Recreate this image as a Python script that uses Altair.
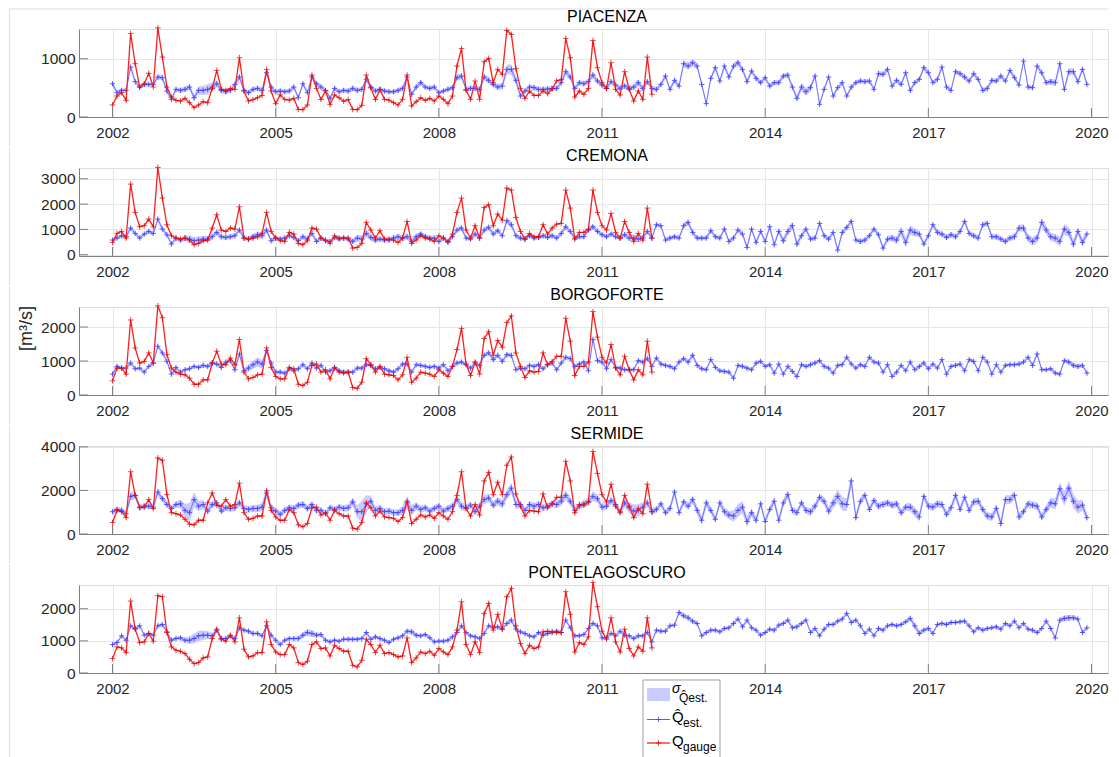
import altair as alt
import numpy as np
import pandas as pd

FONT = "Liberation Sans"
STATIONS = ["PIACENZA", "CREMONA", "BORGOFORTE", "SERMIDE", "PONTELAGOSCURO"]
XTICKS = [2002, 2005, 2008, 2011, 2014, 2017, 2020]
START_YEAR = 2002

# ---------------- PIACENZA ----------------
EST_PIACENZA = [
    571, 417, 457, 457, 857, 606, 514, 560, 560, 560, 686, 674,
    446, 303, 474, 457, 474, 514, 331, 457, 457, 474, 514, 571,
    457, 434, 457, 560, 686, 457, 417, 474, 491, 457, 760, 514,
    434, 446, 434, 446, 514, 331, 571, 417, 686, 571, 514, 457,
    320, 491, 434, 457, 446, 491, 457, 474, 646, 514, 446, 474,
    446, 434, 434, 457, 491, 686, 389, 514, 589, 514, 491, 514,
    417, 446, 474, 503, 674, 703, 474, 491, 491, 474, 686, 629,
    560, 514, 531, 817, 817, 629, 360, 446, 514, 503, 474, 474,
    480, 490, 491, 589, 777, 686, 491, 589, 571, 606, 720, 617,
    549, 491, 606, 549, 491, 531, 491, 514, 589, 491, 606, 491,
    474, 560, 703, 474, 629, 531, 914, 874, 931, 874, 560, 229,
    663, 846, 617, 874, 686, 874, 931, 817, 606, 789, 663, 589,
    674, 531, 589, 589, 703, 720, 514, 320, 514, 434, 503, 703,
    217, 474, 686, 360, 503, 589, 360, 514, 589, 617, 606, 617,
    474, 743, 731, 817, 531, 629, 560, 760, 457, 589, 646, 846,
    760, 589, 646, 857, 514, 457, 777, 743, 686, 617, 743, 646,
    457, 491, 629, 617, 703, 617, 800, 674, 549, 960, 514, 503,
    874, 760, 589, 606, 589, 914, 474, 777, 777, 606, 817, 560,
]
GAUGE_PIACENZA = [
    206, 360, 417, 286, 1434, 914, 514, 571, 749, 514, 1531, 1029,
    514, 343, 286, 274, 320, 246, 160, 206, 263, 246, 491, 800,
    474, 457, 486, 474, 1017, 446, 274, 297, 331, 371, 817, 446,
    229, 380, 303, 290, 320, 131, 126, 206, 720, 491, 300, 450,
    217, 380, 330, 270, 300, 131, 126, 200, 720, 500, 300, 470,
    303, 290, 246, 206, 303, 720, 189, 263, 331, 286, 320, 274,
    360, 303, 229, 360, 874, 1177, 457, 303, 617, 303, 949, 1006,
    589, 817, 731, 1486, 1417, 829, 491, 320, 446, 371, 371, 446,
    400, 480, 620, 640, 1349, 1017, 343, 446, 389, 491, 1314, 846,
    589, 491, 931, 474, 377, 777, 474, 274, 446, 303, 1029, 389,
]
SIG_PIACENZA = [
    40, 40, 35, 35, 50, 40, 35, 35, 35, 35, 45, 45,
    40, 35, 35, 40, 45, 50, 60, 70, 80, 90, 80, 60,
    50, 50, 45, 45, 60, 40, 40, 40, 45, 50, 60, 50,
    40, 40, 40, 40, 45, 40, 45, 40, 50, 45, 45, 40,
    40, 40, 40, 40, 40, 45, 40, 40, 55, 45, 40, 40,
    40, 40, 40, 40, 40, 50, 40, 45, 45, 40, 40, 40,
    35, 35, 40, 40, 50, 55, 45, 45, 45, 45, 55, 55,
    50, 50, 55, 80, 90, 70, 50, 45, 45, 45, 45, 45,
    45, 45, 45, 50, 60, 55, 45, 45, 45, 50, 55, 50,
    45, 45, 45, 45, 45, 45, 45, 50, 60, 50, 45, 45,
    40, 40, 50, 40, 45, 45, 60, 60, 60, 55, 45, 40,
    45, 50, 45, 50, 45, 50, 55, 50, 45, 45, 45, 40,
    40, 40, 40, 40, 45, 45, 50, 60, 70, 70, 60, 50,
    40, 40, 45, 40, 40, 40, 40, 40, 40, 40, 40, 40,
    40, 45, 45, 50, 40, 40, 40, 45, 40, 40, 40, 50,
    45, 40, 40, 50, 40, 40, 45, 45, 45, 40, 45, 40,
    40, 40, 40, 40, 45, 40, 45, 45, 40, 50, 40, 40,
    50, 50, 45, 45, 60, 70, 60, 60, 55, 50, 50, 40,
]

# ---------------- CREMONA ----------------
EST_CREMONA = [
    579, 658, 750, 711, 1053, 842, 658, 816, 921, 842, 1408, 1013,
    790, 421, 658, 579, 658, 618, 553, 579, 618, 618, 711, 882,
    711, 684, 711, 750, 974, 658, 618, 711, 790, 750, 974, 553,
    658, 618, 658, 750, 684, 553, 711, 618, 842, 526, 658, 553,
    526, 684, 618, 658, 618, 526, 658, 618, 842, 684, 579, 618,
    579, 579, 658, 711, 658, 711, 526, 711, 816, 711, 658, 658,
    526, 658, 487, 711, 974, 1053, 658, 618, 816, 658, 974, 1079,
    816, 948, 750, 1342, 1184, 750, 658, 618, 750, 658, 684, 750,
    684, 750, 658, 842, 1105, 921, 658, 711, 711, 974, 1105, 921,
    790, 711, 816, 711, 658, 790, 658, 658, 618, 658, 921, 658,
    1184, 1145, 579, 658, 711, 658, 1145, 1277, 882, 658, 658, 658,
    948, 711, 658, 1013, 526, 658, 974, 816, 290, 1013, 487, 921,
    526, 1105, 395, 921, 553, 921, 1145, 421, 750, 1013, 618, 658,
    1237, 750, 618, 882, 184, 882, 1079, 1316, 579, 526, 579, 750,
    1013, 790, 263, 618, 658, 579, 921, 487, 974, 882, 816, 421,
    750, 1184, 882, 816, 684, 790, 711, 921, 1316, 842, 750, 658,
    1184, 1237, 711, 711, 618, 526, 658, 711, 1053, 1053, 658, 526,
    658, 1277, 974, 711, 658, 526, 1013, 882, 421, 921, 487, 816,
]
GAUGE_CREMONA = [
    487, 842, 921, 658, 2790, 1671, 1105, 1145, 1408, 1105, 3448, 2237,
    1184, 750, 658, 618, 658, 579, 395, 447, 553, 579, 1053, 1579,
    974, 921, 1053, 1013, 1895, 658, 618, 658, 711, 842, 1671, 921,
    658, 553, 526, 882, 816, 447, 395, 553, 1053, 1013, 658, 579,
    447, 750, 658, 658, 658, 263, 290, 447, 1277, 974, 658, 948,
    618, 618, 579, 487, 658, 1316, 447, 579, 750, 658, 618, 526,
    750, 658, 526, 816, 1671, 2237, 974, 658, 1145, 658, 1869, 1974,
    1145, 1605, 1368, 2632, 2553, 1474, 921, 618, 842, 711, 711, 1184,
    816, 1053, 1210, 1237, 2553, 1842, 618, 882, 882, 1013, 2553, 1671,
    1145, 974, 1632, 882, 658, 1316, 882, 526, 842, 579, 1842, 658,
]
SIG_CREMONA = [
    80, 80, 80, 80, 100, 80, 80, 80, 80, 80, 110, 90,
    90, 80, 80, 100, 120, 140, 150, 140, 130, 120, 110, 100,
    100, 100, 100, 100, 110, 100, 110, 120, 130, 140, 120, 100,
    90, 90, 90, 90, 90, 90, 90, 90, 100, 90, 90, 90,
    90, 90, 90, 90, 100, 110, 130, 150, 150, 140, 120, 100,
    100, 100, 100, 110, 120, 130, 140, 120, 100, 100, 90, 90,
    90, 90, 90, 90, 100, 110, 90, 90, 100, 100, 110, 110,
    100, 100, 100, 120, 130, 110, 100, 90, 90, 90, 90, 90,
    90, 90, 90, 100, 110, 100, 90, 90, 90, 100, 110, 100,
    90, 90, 90, 90, 90, 100, 120, 140, 130, 110, 100, 90,
    90, 90, 90, 90, 90, 90, 110, 120, 110, 100, 90, 90,
    90, 90, 90, 100, 90, 90, 90, 100, 110, 100, 100, 100,
    100, 110, 110, 120, 150, 160, 150, 140, 120, 110, 100, 100,
    100, 100, 100, 100, 110, 100, 100, 110, 100, 100, 100, 100,
    100, 100, 110, 120, 130, 150, 180, 200, 180, 150, 120, 110,
    110, 110, 110, 110, 110, 110, 110, 110, 110, 110, 110, 110,
    110, 110, 110, 110, 110, 110, 110, 120, 130, 150, 160, 170,
    170, 180, 170, 160, 170, 180, 200, 190, 180, 170, 160, 150,
]

# ---------------- BORGOFORTE ----------------
EST_BORGOFORTE = [
    614, 842, 792, 792, 941, 772, 792, 673, 842, 941, 1436, 1238,
    990, 614, 812, 673, 743, 772, 842, 812, 871, 842, 941, 911,
    812, 970, 1010, 743, 1208, 713, 792, 891, 970, 911, 1307, 941,
    673, 673, 644, 772, 713, 772, 891, 772, 941, 792, 871, 673,
    713, 812, 713, 673, 673, 673, 792, 792, 891, 871, 772, 812,
    772, 713, 673, 772, 911, 911, 673, 891, 871, 842, 812, 842,
    792, 891, 713, 842, 941, 970, 891, 792, 941, 871, 1168, 1238,
    1040, 1168, 990, 1188, 1168, 743, 792, 772, 871, 842, 891, 772,
    891, 941, 743, 941, 1109, 1069, 842, 911, 970, 713, 1634, 1010,
    970, 772, 1040, 812, 792, 743, 743, 743, 1010, 970, 1069, 842,
    1089, 911, 871, 842, 772, 970, 1069, 970, 1168, 871, 772, 743,
    1040, 812, 713, 693, 673, 495, 871, 842, 792, 743, 941, 990,
    842, 891, 644, 911, 614, 842, 693, 545, 891, 842, 891, 941,
    1010, 842, 792, 644, 871, 891, 1109, 911, 792, 891, 842, 1109,
    970, 941, 673, 891, 545, 673, 871, 713, 970, 743, 842, 941,
    772, 911, 792, 1040, 614, 842, 871, 911, 713, 1040, 990, 713,
    1109, 970, 614, 891, 673, 871, 891, 891, 911, 970, 1109, 871,
    1208, 743, 743, 772, 644, 614, 1010, 970, 871, 842, 871, 644,
]
GAUGE_BORGOFORTE = [
    416, 792, 792, 614, 2208, 1386, 941, 990, 1238, 941, 2624, 2277,
    1188, 792, 673, 614, 594, 495, 317, 317, 446, 446, 941, 1287,
    911, 891, 1089, 891, 1634, 673, 475, 515, 594, 614, 1386, 812,
    545, 475, 475, 812, 772, 317, 277, 376, 871, 911, 673, 743,
    475, 792, 673, 644, 673, 218, 198, 376, 1069, 891, 673, 842,
    614, 594, 574, 446, 594, 1109, 376, 495, 673, 644, 614, 545,
    743, 644, 545, 842, 1337, 1960, 911, 574, 970, 614, 1663, 1861,
    1168, 1604, 1406, 2129, 2327, 1238, 842, 515, 713, 673, 693, 1238,
    891, 990, 1139, 1139, 2257, 1584, 574, 842, 842, 970, 2455, 1703,
    1109, 941, 1485, 792, 594, 1139, 743, 446, 743, 594, 1584, 673,
]
SIG_BORGOFORTE = [
    50, 50, 50, 50, 60, 50, 50, 50, 50, 50, 60, 60,
    60, 50, 50, 50, 50, 50, 50, 55, 60, 60, 60, 60,
    60, 60, 60, 70, 80, 90, 100, 120, 140, 130, 100, 80,
    60, 60, 55, 55, 55, 55, 55, 55, 60, 55, 55, 55,
    55, 55, 55, 55, 55, 55, 60, 60, 60, 60, 55, 55,
    55, 55, 55, 55, 60, 70, 60, 55, 55, 55, 55, 55,
    55, 55, 55, 55, 60, 60, 55, 55, 60, 60, 70, 70,
    70, 70, 70, 70, 70, 60, 55, 55, 55, 55, 55, 55,
    55, 55, 55, 60, 70, 60, 55, 55, 60, 60, 80, 70,
    60, 55, 55, 55, 55, 55, 55, 55, 60, 55, 55, 55,
    55, 55, 55, 55, 55, 60, 60, 70, 80, 70, 60, 55,
    55, 55, 55, 55, 55, 55, 55, 55, 55, 55, 55, 55,
    55, 55, 55, 55, 55, 55, 55, 55, 55, 55, 60, 55,
    55, 55, 55, 55, 55, 55, 60, 55, 55, 55, 55, 60,
    55, 55, 55, 55, 55, 55, 55, 55, 60, 60, 60, 60,
    55, 55, 55, 55, 55, 55, 55, 55, 55, 60, 60, 55,
    60, 60, 55, 55, 55, 55, 55, 55, 55, 60, 60, 70,
    70, 55, 55, 55, 55, 55, 60, 70, 80, 70, 60, 55,
]

# ---------------- SERMIDE ----------------
EST_SERMIDE = [
    1023, 1128, 1083, 932, 1730, 1775, 1203, 1278, 1278, 1233, 1925, 1624,
    1354, 1173, 1354, 1384, 1083, 978, 1579, 1278, 1354, 1053, 1354, 1429,
    1053, 1203, 1173, 1203, 1429, 1173, 1128, 1173, 1173, 1233, 1880, 1203,
    1053, 902, 1083, 1203, 1173, 1324, 1354, 1173, 1354, 1083, 1083, 932,
    1203, 1128, 1233, 1173, 1203, 1474, 1023, 1023, 1384, 1504, 1083, 1173,
    1023, 1053, 978, 978, 1083, 1429, 1083, 1278, 1128, 1203, 1053, 1173,
    1278, 1053, 1173, 1278, 1579, 1278, 1203, 1324, 1023, 1278, 1579, 1654,
    1324, 1504, 1384, 1805, 2106, 1354, 1354, 1083, 1354, 1278, 1354, 1203,
    1278, 1384, 1354, 1504, 1775, 1504, 1083, 1278, 1384, 1474, 1730, 1624,
    1233, 1278, 1534, 1354, 1023, 1429, 1203, 1053, 1083, 1233, 1429, 1023,
    1128, 1384, 978, 1173, 1925, 978, 1474, 1278, 1579, 1083, 632, 1429,
    1083, 677, 1429, 1023, 872, 827, 1083, 1233, 572, 978, 632, 1384,
    572, 1128, 1504, 632, 1429, 1805, 1083, 978, 1429, 1083, 1023, 1278,
    1685, 1504, 1053, 1429, 1730, 1384, 1354, 2436, 752, 1504, 1775, 1128,
    1534, 1278, 1354, 1429, 1324, 1384, 978, 1233, 1233, 1023, 782, 1730,
    1278, 1233, 1384, 1354, 902, 1203, 1775, 1128, 1685, 1083, 1474, 1504,
    1128, 827, 782, 1173, 481, 1579, 1579, 1775, 782, 1023, 1384, 1324,
    1278, 782, 1128, 1429, 1384, 2076, 1624, 2106, 1504, 1233, 1324, 752,
]
GAUGE_SERMIDE = [
    526, 1083, 1023, 752, 2858, 1775, 1233, 1233, 1579, 1173, 3489, 3384,
    1805, 978, 932, 872, 677, 451, 421, 632, 632, 1429, 1880, 1324,
    1278, 1579, 1278, 1354, 2331, 978, 677, 722, 827, 827, 1985, 1083,
    782, 632, 632, 1128, 978, 421, 331, 481, 1203, 1233, 872, 978,
    632, 1083, 932, 827, 827, 271, 226, 526, 1429, 1203, 827, 1053,
    782, 752, 722, 572, 752, 1504, 481, 677, 872, 782, 872, 722,
    978, 827, 677, 1023, 1775, 2858, 1173, 827, 1354, 872, 2436, 2828,
    1805, 2376, 1805, 3158, 3534, 1835, 1278, 827, 1083, 1053, 1023, 1835,
    1203, 1384, 1685, 1685, 3339, 2436, 978, 1354, 1324, 1474, 3790, 2782,
    1805, 1474, 2286, 1278, 978, 1775, 1278, 752, 1173, 932, 2286, 1023,
]
SIG_SERMIDE = [
    120, 120, 120, 120, 200, 180, 140, 130, 130, 130, 180, 160,
    150, 140, 140, 200, 300, 450, 350, 250, 200, 180, 160, 150,
    150, 150, 150, 150, 160, 150, 150, 160, 170, 200, 250, 200,
    150, 150, 150, 150, 150, 150, 160, 150, 150, 140, 140, 140,
    140, 140, 150, 150, 170, 200, 300, 500, 400, 250, 180, 160,
    150, 150, 150, 150, 200, 300, 250, 180, 160, 150, 150, 150,
    150, 150, 150, 160, 200, 200, 160, 160, 160, 170, 200, 200,
    180, 180, 200, 220, 250, 200, 180, 160, 160, 160, 160, 160,
    160, 160, 170, 200, 220, 200, 160, 160, 170, 190, 220, 200,
    170, 160, 170, 160, 160, 200, 250, 300, 280, 220, 180, 160,
    150, 150, 150, 160, 200, 150, 160, 170, 180, 200, 220, 200,
    170, 160, 170, 180, 200, 250, 300, 280, 250, 200, 180, 170,
    160, 160, 180, 200, 200, 200, 170, 160, 160, 160, 170, 180,
    170, 180, 200, 250, 300, 320, 300, 250, 200, 180, 170, 160,
    160, 160, 160, 160, 160, 160, 160, 170, 200, 220, 200, 180,
    170, 170, 170, 170, 170, 180, 200, 180, 170, 170, 170, 170,
    170, 170, 180, 200, 220, 200, 200, 200, 180, 170, 170, 170,
    170, 180, 200, 230, 260, 300, 330, 350, 320, 300, 260, 200,
]

# ---------------- PONTELAGOSCURO ----------------
EST_PONTE = [
    886, 948, 1157, 1021, 1469, 1386, 1469, 1177, 1230, 1177, 1469, 1511,
    1282, 1021, 1073, 1094, 1021, 1021, 1073, 1157, 1177, 1177, 1157, 1334,
    1073, 1073, 1157, 1073, 1407, 1334, 1302, 1230, 1230, 1157, 1469, 1177,
    1021, 886, 1021, 1073, 1073, 1073, 1177, 1261, 1230, 1177, 1198, 1021,
    969, 1021, 990, 1052, 1052, 1052, 1052, 1073, 1261, 1052, 1125, 1073,
    1021, 948, 1052, 1094, 1157, 1302, 1282, 1177, 1157, 1198, 1094, 969,
    990, 990, 1021, 1125, 1261, 1469, 1261, 1157, 1125, 1073, 1230, 1469,
    1407, 1438, 1365, 1542, 1646, 1365, 1282, 1230, 1157, 1125, 1261, 1177,
    1230, 1261, 1302, 1261, 1646, 1407, 1157, 1157, 1198, 1386, 1542, 1469,
    1094, 1094, 1230, 1157, 1302, 1177, 1157, 1073, 1157, 1157, 1261, 969,
    1334, 1302, 1302, 1469, 1490, 1886, 1782, 1719, 1615, 1542, 1157, 1261,
    1334, 1334, 1282, 1386, 1407, 1542, 1678, 1438, 1646, 1407, 1334, 1177,
    1261, 1365, 1334, 1490, 1542, 1646, 1407, 1438, 1542, 1646, 1261, 1386,
    1157, 1365, 1511, 1511, 1615, 1678, 1855, 1573, 1646, 1469, 1230, 1365,
    1157, 1386, 1334, 1469, 1511, 1469, 1511, 1594, 1699, 1469, 1230, 1334,
    1386, 1230, 1511, 1542, 1511, 1573, 1573, 1594, 1615, 1469, 1282, 1407,
    1334, 1386, 1407, 1438, 1365, 1542, 1469, 1615, 1407, 1542, 1365, 1334,
    1261, 1386, 1615, 1386, 1094, 1646, 1699, 1719, 1719, 1678, 1261, 1407,
]
GAUGE_PONTE = [
    448, 813, 781, 636, 2240, 1365, 948, 969, 1230, 990, 2407, 2376,
    1261, 813, 709, 677, 604, 427, 292, 323, 469, 500, 1073, 1365,
    1052, 990, 1177, 969, 1719, 740, 500, 531, 636, 636, 1594, 886,
    656, 573, 573, 886, 781, 323, 261, 365, 886, 969, 761, 781,
    531, 865, 761, 677, 677, 240, 188, 396, 1052, 886, 636, 865,
    604, 636, 573, 500, 531, 1094, 323, 469, 656, 604, 677, 552,
    761, 656, 573, 813, 1334, 2219, 886, 573, 969, 636, 1855, 2167,
    1334, 1824, 1365, 2376, 2636, 1469, 917, 604, 865, 761, 813, 1282,
    1302, 1282, 1261, 1261, 2532, 1824, 656, 948, 886, 1125, 2824, 2063,
    1302, 1052, 1719, 969, 656, 1365, 761, 531, 813, 677, 1719, 781,
]
SIG_PONTE = [
    50, 50, 50, 50, 60, 55, 55, 50, 50, 50, 60, 60,
    55, 55, 55, 60, 80, 120, 150, 160, 150, 130, 100, 80,
    60, 60, 60, 60, 70, 60, 60, 60, 60, 60, 70, 60,
    55, 55, 55, 55, 60, 70, 90, 110, 100, 80, 60, 55,
    55, 55, 55, 55, 55, 55, 55, 55, 60, 55, 55, 55,
    55, 55, 55, 55, 60, 70, 80, 70, 60, 55, 55, 55,
    55, 55, 55, 55, 60, 60, 55, 55, 55, 55, 60, 60,
    60, 60, 60, 70, 80, 70, 60, 55, 55, 55, 55, 55,
    55, 55, 55, 55, 60, 60, 55, 55, 55, 55, 60, 60,
    55, 55, 55, 55, 55, 55, 55, 60, 60, 55, 55, 55,
    55, 55, 55, 55, 60, 70, 80, 80, 70, 60, 55, 55,
    55, 55, 55, 55, 55, 55, 55, 55, 55, 55, 55, 55,
    55, 55, 55, 55, 55, 55, 55, 55, 55, 55, 55, 55,
    55, 55, 55, 55, 60, 60, 60, 55, 55, 55, 55, 55,
    55, 55, 55, 55, 55, 55, 55, 60, 80, 100, 90, 70,
    55, 55, 55, 55, 55, 55, 55, 55, 55, 55, 55, 55,
    55, 55, 55, 55, 55, 55, 55, 55, 55, 55, 55, 55,
    55, 55, 55, 60, 70, 80, 90, 90, 80, 60, 55, 55,
]

YTICKS = {
    "PIACENZA": [0, 1000],
    "CREMONA": [0, 1000, 2000, 3000],
    "BORGOFORTE": [0, 1000, 2000],
    "SERMIDE": [0, 2000, 4000],
    "PONTELAGOSCURO": [0, 1000, 2000],
}
SERIES = {
    "PIACENZA": (EST_PIACENZA, GAUGE_PIACENZA, SIG_PIACENZA),
    "CREMONA": (EST_CREMONA, GAUGE_CREMONA, SIG_CREMONA),
    "BORGOFORTE": (EST_BORGOFORTE, GAUGE_BORGOFORTE, SIG_BORGOFORTE),
    "SERMIDE": (EST_SERMIDE, GAUGE_SERMIDE, SIG_SERMIDE),
    "PONTELAGOSCURO": (EST_PONTE, GAUGE_PONTE, SIG_PONTE),
}

# ---------------- styling / layout ----------------
W, H = 1029, 88
FRAME_X = -69.5
XDOM = [2001.384, 2020.303]
YDOM = {
    "PIACENZA": [0, 1510],
    "CREMONA": [-50, 3425],
    "BORGOFORTE": [0, 2590],
    "SERMIDE": [0, 4040],
    "PONTELAGOSCURO": [0, 2740],
}
BAND = "#a8a8ff"
BLUE_LINE = "#5a5aff"
BLUE_MARK = "#3535ff"
RED_LINE = "#ff1f1f"
RED_MARK = "#d80000"
AXIS_COL = "#808080"
TXT = "#262626"
FRAME = "#dddddd"
PLUS = "M-1,0L1,0M0,-1L0,1"
LX = 564  # legend box left, relative to the bottom panel's plot area

dummy = pd.DataFrame({"k": [0]})


def make_panel(name, idx):
    est, gauge, sig = SERIES[name]
    est = np.array(est, dtype=float)
    sig = np.array(sig, dtype=float)
    t_est = START_YEAR + np.arange(len(est)) / 12.0
    t_g = START_YEAR + np.arange(len(gauge)) / 12.0
    df_est = pd.DataFrame({"t": t_est, "est": est, "lo": est - sig, "hi": est + sig})
    df_g = pd.DataFrame({"t": t_g, "gauge": gauge})

    xscale = alt.Scale(domain=XDOM, nice=False, zero=False)
    yscale = alt.Scale(domain=YDOM[name], nice=False, zero=False)
    xaxis = alt.Axis(values=XTICKS, format="d", title="", grid=True, gridColor="#e6e6e6",
                     ticks=False, tickSize=0, labelFontSize=15, labelFont=FONT,
                     labelColor=TXT, labelPadding=8, domainColor=AXIS_COL,
                     labelFlush=False, labelOverlap=False)
    yargs = dict(values=YTICKS[name], format="d", grid=True, gridColor="#e6e6e6", ticks=False,
                 tickSize=0, labelFontSize=15.5, labelFont=FONT, labelColor=TXT,
                 labelPadding=4, domainColor=AXIS_COL, minExtent=40, maxExtent=40,
                 labelFlush=False, labelOverlap=False)
    if name == "BORGOFORTE":
        yaxis = alt.Axis(title="[m³/s]", titleFont=FONT, titleFontSize=18,
                         titleFontWeight="normal", titleColor=TXT, titlePadding=4,
                         titleY=21, **yargs)
    else:
        yaxis = alt.Axis(title="", **yargs)

    X = lambda f: alt.X(f, scale=xscale, axis=xaxis)
    Y = lambda f: alt.Y(f, scale=yscale, axis=yaxis)

    band = alt.Chart(df_est).mark_area(color=BAND, opacity=0.6).encode(
        x=X("t:Q"), y=Y("lo:Q"), y2="hi:Q")
    eline = alt.Chart(df_est).mark_line(color=BLUE_LINE, strokeWidth=1, opacity=0.8).encode(
        x=X("t:Q"), y=Y("est:Q"))
    epts = alt.Chart(df_est).mark_point(shape=PLUS, filled=False, size=28, strokeWidth=1,
                                        color=BLUE_MARK, opacity=0.8).encode(
        x=X("t:Q"), y=Y("est:Q"))
    gline = alt.Chart(df_g).mark_line(color=RED_LINE, strokeWidth=1.3).encode(
        x=X("t:Q"), y=Y("gauge:Q"))
    gpts = alt.Chart(df_g).mark_point(shape=PLUS, filled=False, size=32, strokeWidth=1,
                                      color=RED_MARK).encode(
        x=X("t:Q"), y=Y("gauge:Q"))

    xt = alt.Chart(pd.DataFrame({"v": XTICKS})).mark_rule(color=AXIS_COL, strokeWidth=1).encode(
        x=X("v:Q"), y=alt.value(H), y2=alt.value(H - 9))
    yt = alt.Chart(pd.DataFrame({"v": YTICKS[name]})).mark_rule(color=AXIS_COL, strokeWidth=1).encode(
        y=Y("v:Q"), x=alt.value(0), x2=alt.value(9))

    last = idx == len(STATIONS) - 1
    bottom = 178 if last else H + 29
    frame_left = alt.Chart(dummy).mark_rule(color=FRAME, strokeWidth=1).encode(
        x=alt.value(FRAME_X), y=alt.value(-20), y2=alt.value(bottom))
    layers = [frame_left]
    if idx == 0:
        layers.append(alt.Chart(dummy).mark_rule(color=FRAME, strokeWidth=1).encode(
            x=alt.value(FRAME_X), x2=alt.value(W), y=alt.value(-20)))
    layers += [band, eline, epts, gline, gpts, xt, yt]

    if last:
        box = alt.Chart(dummy).mark_rect(fill="white", stroke="#a0a0a0", strokeWidth=1).encode(
            x=alt.value(LX), x2=alt.value(LX + 77), y=alt.value(95), y2=alt.value(178))
        sw = alt.Chart(dummy).mark_rect(fill=BAND, opacity=0.6).encode(
            x=alt.value(LX + 4), x2=alt.value(LX + 27), y=alt.value(103), y2=alt.value(116))
        bl = alt.Chart(dummy).mark_rule(color=BLUE_LINE, strokeWidth=1).encode(
            x=alt.value(LX + 4), x2=alt.value(LX + 27), y=alt.value(134.5))
        bm = alt.Chart(dummy).mark_point(shape=PLUS, filled=False, size=28, strokeWidth=1,
                                         color=BLUE_MARK).encode(
            x=alt.value(LX + 15.5), y=alt.value(134.5))
        rl = alt.Chart(dummy).mark_rule(color=RED_LINE, strokeWidth=1.3).encode(
            x=alt.value(LX + 4), x2=alt.value(LX + 27), y=alt.value(158))
        rm = alt.Chart(dummy).mark_point(shape=PLUS, filled=False, size=32, strokeWidth=1,
                                         color=RED_MARK).encode(
            x=alt.value(LX + 15.5), y=alt.value(158))

        def txt(s, x, y, size, italic=False):
            kw = dict(text=s, font=FONT, fontSize=size, align="left",
                      baseline="alphabetic", color="black")
            if italic:
                kw["fontStyle"] = "italic"
            return alt.Chart(dummy).mark_text(**kw).encode(x=alt.value(x), y=alt.value(y))

        layers += [box, sw, bl, bm, rl, rm,
                   txt("σ", LX + 29, 108, 14, italic=True),
                   txt("Q\u0302est.", LX + 36, 117, 12),
                   txt("Q\u0302", LX + 29, 137, 15),
                   txt("est.", LX + 40, 142, 12),
                   txt("Q", LX + 29, 161, 15),
                   txt("gauge", LX + 40, 166, 12)]

    return alt.layer(*layers).properties(
        width=W, height=H,
        title=alt.TitleParams(text=name, font=FONT, fontSize=16, fontWeight="normal",
                              color="black", offset=-16.5, anchor="middle", frame="group",
                              dx=13.5))


panels = [make_panel(n, i) for i, n in enumerate(STATIONS)]
chart = alt.vconcat(*panels, spacing=0).properties(
    padding={"left": 0, "top": 0, "right": 0, "bottom": 0}
).configure_view(stroke=None).configure(background="white")

chart.save("out.html", embed_options={"renderer": "svg", "actions": False})
